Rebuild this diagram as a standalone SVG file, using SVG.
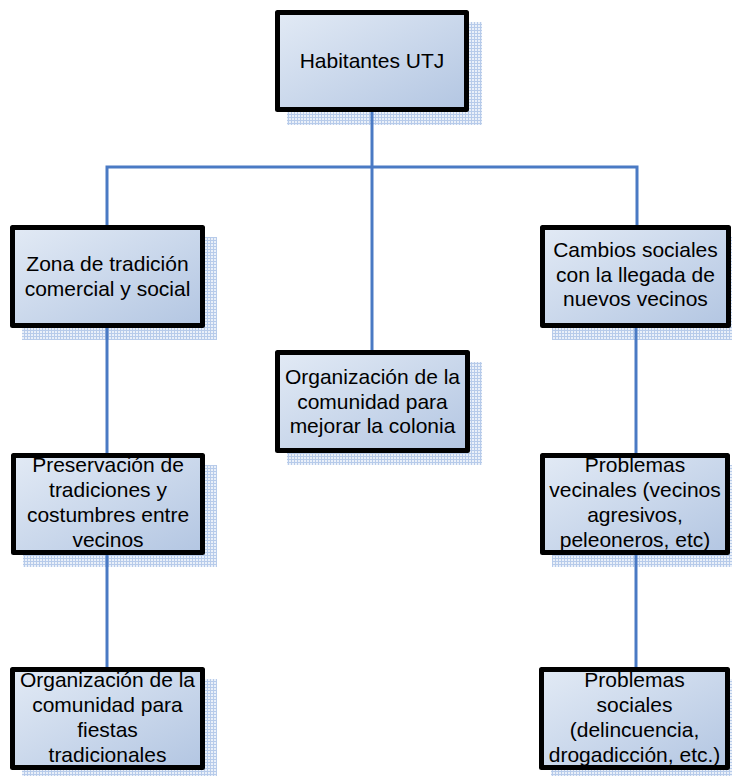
<svg xmlns="http://www.w3.org/2000/svg" width="732" height="776" viewBox="0 0 732 776">
<defs>
<linearGradient id="fill" x1="0" y1="0" x2="1" y2="1">
<stop offset="0" stop-color="#E2EAF5"/>
<stop offset="1" stop-color="#B3C6E2"/>
</linearGradient>
<pattern id="hatch" width="3" height="3" patternUnits="userSpaceOnUse">
<rect width="3" height="3" fill="#EAF0F9"/>
<rect width="3" height="1" fill="#B7CBEA"/>
<rect width="1" height="3" fill="#B7CBEA"/>
</pattern>
<style>
.box{fill:url(#fill);stroke:#000;stroke-width:5;stroke-linejoin:round}
.sh{fill:url(#hatch)}
.t{font-family:"Liberation Sans",Arial,sans-serif;font-size:21px;fill:#000;text-anchor:middle}
.c{stroke:#4A7AC4;stroke-width:3;fill:none}
</style>
</defs>
<rect width="732" height="776" fill="#fff"/>
<g id="n-habitantes">
<rect class="sh" x="287" y="22" width="195" height="103"/>
<rect class="box" x="277.5" y="12.5" width="189" height="97"/>
<text class="t" x="372" y="68">Habitantes UTJ</text>
</g>
<g id="n-zona">
<rect class="sh" x="22" y="237" width="195" height="103"/>
<rect class="box" x="12.5" y="227.5" width="190" height="98"/>
<text class="t" x="107.5" y="271">Zona de tradición</text>
<text class="t" x="107.5" y="296">comercial y social</text>
</g>
<g id="n-cambios">
<rect class="sh" x="552" y="237" width="191" height="103"/>
<rect class="box" x="542.5" y="227.5" width="186" height="98"/>
<text class="t" x="635.5" y="257">Cambios sociales</text>
<text class="t" x="635.5" y="282">con la llegada de</text>
<text class="t" x="635.5" y="306">nuevos vecinos</text>
</g>
<g id="n-organizacion">
<rect class="sh" x="287" y="362" width="195" height="103"/>
<rect class="box" x="277.5" y="352.5" width="190" height="98"/>
<text class="t" x="372.5" y="384">Organización de la</text>
<text class="t" x="372.5" y="408.5">comunidad para</text>
<text class="t" x="372.5" y="433">mejorar la colonia</text>
</g>
<g id="n-preservacion">
<rect class="sh" x="23" y="465" width="194" height="102"/>
<rect class="box" x="13.5" y="455.5" width="189" height="97"/>
<text class="t" x="108" y="472">Preservación de</text>
<text class="t" x="108" y="497">tradiciones y</text>
<text class="t" x="108" y="522">costumbres entre</text>
<text class="t" x="108" y="547">vecinos</text>
</g>
<g id="n-vecinales">
<rect class="sh" x="552" y="465" width="190" height="102"/>
<rect class="box" x="542.5" y="455.5" width="185" height="97"/>
<text class="t" x="635" y="472">Problemas</text>
<text class="t" x="635" y="497">vecinales (vecinos</text>
<text class="t" x="635" y="522">agresivos,</text>
<text class="t" x="635" y="547">peleoneros, etc)</text>
</g>
<g id="n-fiestas">
<rect class="sh" x="22" y="679" width="195" height="103"/>
<rect class="box" x="12.5" y="669.5" width="190" height="98"/>
<text class="t" x="107.5" y="687">Organización de la</text>
<text class="t" x="107.5" y="712">comunidad para</text>
<text class="t" x="107.5" y="737">fiestas</text>
<text class="t" x="107.5" y="762">tradicionales</text>
</g>
<g id="n-sociales">
<rect class="sh" x="551" y="679" width="191" height="103"/>
<rect class="box" x="541.5" y="669.5" width="186" height="98"/>
<text class="t" x="634.5" y="687">Problemas</text>
<text class="t" x="634.5" y="712">sociales</text>
<text class="t" x="634.5" y="737">(delincuencia,</text>
<text class="t" x="634.5" y="762">drogadicción, etc.)</text>
</g>
<g id="connectors">
<path class="c" d="M372 112V350"/>
<path class="c" d="M107 225V167H637V225"/>
<path class="c" d="M107 328V453"/>
<path class="c" d="M107 555V667"/>
<path class="c" d="M636 328V453"/>
<path class="c" d="M636 555V667"/>
</g>
</svg>
